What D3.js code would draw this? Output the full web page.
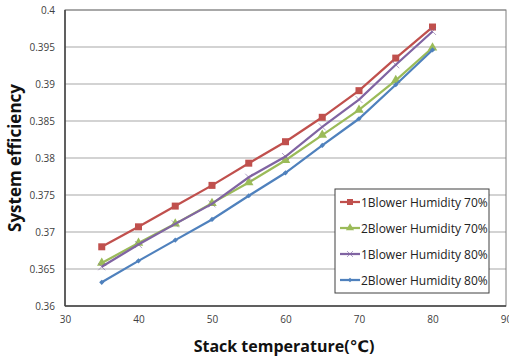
<!DOCTYPE html>
<html>
<head>
<meta charset="utf-8">
<script src="https://cdn.jsdelivr.net/npm/d3@7"></script>
<style>
  body { margin: 0; background: #fff; }
  text { font-family: "Open Sans", "DejaVu Sans", sans-serif; }
</style>
</head>
<body>
<div id="chart"></div>
<script>
const temps = [35, 40, 45, 50, 55, 60, 65, 70, 75, 80];
const blower1Hum70 = [0.3680, 0.3707, 0.3735, 0.3763, 0.3793, 0.3822, 0.3855, 0.3891, 0.3935, 0.3977];
const blower2Hum70 = [0.3658, 0.3685, 0.3711, 0.3739, 0.3767, 0.3797, 0.3831, 0.3865, 0.3905, 0.3949];
const blower1Hum80 = [0.3653, 0.3683, 0.3711, 0.3738, 0.3774, 0.3802, 0.3842, 0.3879, 0.3926, 0.3971];
const blower2Hum80 = [0.3632, 0.3661, 0.3689, 0.3717, 0.3749, 0.3780, 0.3817, 0.3853, 0.3899, 0.3946];
const xTicks = [30, 40, 50, 60, 70, 80, 90];
const yTicks = [0.36, 0.365, 0.37, 0.375, 0.38, 0.385, 0.39, 0.395, 0.4];

const series = [
  { name: '1Blower Humidity 70%', values: blower1Hum70, color: '#C0504D', marker: 'square' },
  { name: '2Blower Humidity 70%', values: blower2Hum70, color: '#9BBB59', marker: 'triangle' },
  { name: '1Blower Humidity 80%', values: blower1Hum80, color: '#8064A2', marker: 'cross' },
  { name: '2Blower Humidity 80%', values: blower2Hum80, color: '#4F81BD', marker: 'diamond' }
];

const W = 509, H = 358;
const margin = { top: 10, right: 3, bottom: 52, left: 65 };
const width = W - margin.left - margin.right;
const height = H - margin.top - margin.bottom;

const svg = d3.select('#chart').append('svg')
  .attr('width', W).attr('height', H);

const g = svg.append('g').attr('transform', `translate(${margin.left},${margin.top})`);

const x = d3.scaleLinear().domain([30, 90]).range([0, width]);
const y = d3.scaleLinear().domain([0.36, 0.4]).range([height, 0]);

// gridlines
g.selectAll('.grid').data(yTicks.slice(1)).enter().append('line')
  .attr('x1', 0).attr('x2', width)
  .attr('y1', d => y(d)).attr('y2', d => y(d))
  .attr('stroke', '#c4c4c4').attr('stroke-width', 1.5);

// plot border
g.append('rect').attr('width', width).attr('height', height)
  .attr('fill', 'none').attr('stroke', '#7f7f7f').attr('stroke-width', 1);
g.append('line').attr('x1', 0).attr('x2', 0).attr('y1', 0).attr('y2', height)
  .attr('stroke', '#404040').attr('stroke-width', 1.5);
g.append('line').attr('x1', 0).attr('x2', width).attr('y1', height).attr('y2', height)
  .attr('stroke', '#404040').attr('stroke-width', 1.5);

// axes
const yAxis = g.append('g').call(d3.axisLeft(y).tickValues(yTicks).tickSize(0).tickPadding(10)
  .tickFormat(d => d3.format('~g')(d)));
yAxis.select('.domain').remove();
yAxis.selectAll('text').attr('font-size', 10).attr('fill', '#404040');

const xAxis = g.append('g').attr('transform', `translate(0,${height})`)
  .call(d3.axisBottom(x).tickValues(xTicks).tickSize(0).tickPadding(10));
xAxis.select('.domain').remove();
xAxis.selectAll('text').attr('font-size', 10).attr('fill', '#404040');

// axis titles
svg.append('text')
  .attr('transform', `translate(21,${margin.top + height / 2}) rotate(-90)`)
  .attr('text-anchor', 'middle').attr('font-size', 17).attr('font-weight', 'bold')
  .attr('fill', '#111').text('System efficiency');
svg.append('text')
  .attr('x', 284).attr('y', 352)
  .attr('text-anchor', 'middle').attr('font-size', 16).attr('font-weight', 'bold')
  .attr('fill', '#111').text('Stack temperature(℃)');

function drawMarker(sel, type, color, size) {
  if (type === 'square') {
    sel.append('rect').attr('x', -size / 2).attr('y', -size / 2)
      .attr('width', size).attr('height', size).attr('fill', color);
  } else if (type === 'triangle') {
    sel.append('path').attr('d', d3.symbol(d3.symbolTriangle, size * size * 0.8)()).attr('fill', color);
  } else if (type === 'cross') {
    const s = size / 2;
    sel.append('path').attr('d', `M${-s},${-s}L${s},${s}M${-s},${s}L${s},${-s}`)
      .attr('stroke', color).attr('stroke-width', 1).attr('opacity', 0.6).attr('fill', 'none');
  } else if (type === 'diamond') {
    sel.append('path').attr('d', d3.symbol(d3.symbolDiamond2, size * size * 0.35)()).attr('fill', color);
  }
}

const line = d3.line().x(d => x(d[0])).y(d => y(d[1]));

series.forEach(s => {
  const pts = temps.map((t, i) => [t, s.values[i]]);
  g.append('path').datum(pts).attr('d', line)
    .attr('fill', 'none').attr('stroke', s.color).attr('stroke-width', 2.25);
  g.selectAll(null).data(pts).enter().append('g')
    .attr('transform', d => `translate(${x(d[0])},${y(d[1])})`)
    .each(function () { drawMarker(d3.select(this), s.marker, s.color, 7); });
});

// legend
const lg = svg.append('g').attr('transform', 'translate(335,189)');
lg.append('rect').attr('width', 154).attr('height', 104)
  .attr('fill', '#fff').attr('stroke', '#404040').attr('stroke-width', 1);
series.forEach((s, i) => {
  const row = lg.append('g').attr('transform', `translate(0,${13 + i * 26})`);
  row.append('line').attr('x1', 5).attr('x2', 25).attr('y1', 0).attr('y2', 0)
    .attr('stroke', s.color).attr('stroke-width', 2.25);
  const m = row.append('g').attr('transform', 'translate(15,0)');
  drawMarker(m, s.marker, s.color, 6);
  row.append('text').attr('x', 26).attr('y', 4.5).attr('font-size', 12)
    .attr('fill', '#222').text(s.name);
});
</script>
</body>
</html>
